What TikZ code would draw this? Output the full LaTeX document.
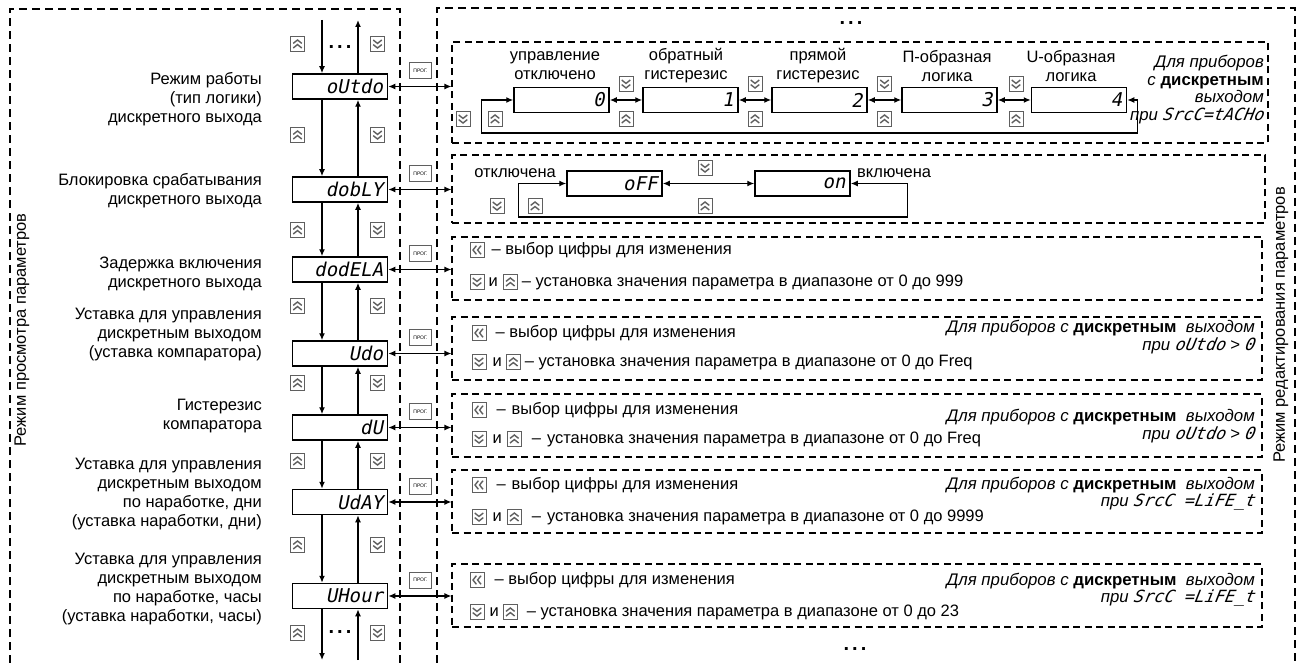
\documentclass[tikz,border=0pt]{standalone}
\usepackage{fontspec}
\setmainfont{Liberation Sans}
\newfontfamily\segfont[FakeSlant=0.2]{DejaVu Sans Mono}
\usetikzlibrary{arrows.meta,positioning}
\definecolor{pnl@gray}{RGB}{95,95,95}

% two chevrons drawn round the centre of a button
\newcommand{\chevpair}[1]{%
  \begin{scope}[shift={(path picture bounding box.center)}]
    \draw[line width=1.4pt, line join=miter] #1;
  \end{scope}}

\begin{document}
\begin{tikzpicture}[x=1pt, y=-1pt,
  disp/.style      = {rectangle, draw, line width=1.5pt, minimum width=95pt, minimum height=25pt,
                      inner sep=0pt, text width=86pt, align=right,
                      font=\segfont\fontsize{19}{19}\selectfont},
  ebox/.style      = {rectangle, draw, dash pattern=on 7pt off 4.5pt, line width=1.1pt},
  modeframe/.style = {draw, dash pattern=on 8pt off 5pt, line width=1.2pt},
  btn/.style       = {rectangle, draw=pnl@gray, line width=0.7pt, fill=white,
                      minimum width=14pt, minimum height=15pt, inner sep=0pt},
  btnup/.style     = {btn, path picture={\chevpair{(-4.3pt,-4pt) -- (0pt,-0.6pt) -- (4.3pt,-4pt)
                                                   (-4.3pt,0.6pt) -- (0pt,4pt) -- (4.3pt,0.6pt)}}},
  btndn/.style     = {btn, path picture={\chevpair{(-4.3pt,4pt) -- (0pt,0.6pt) -- (4.3pt,4pt)
                                                   (-4.3pt,-0.6pt) -- (0pt,-4pt) -- (4.3pt,-0.6pt)}}},
  btnlf/.style     = {btn, path picture={\chevpair{(4pt,-4.3pt) -- (0.6pt,0pt) -- (4pt,4.3pt)
                                                   (-0.6pt,-4.3pt) -- (-4pt,0pt) -- (-0.6pt,4.3pt)}}},
  prog/.style      = {rectangle, draw=pnl@gray, line width=0.7pt, minimum width=22pt,
                      minimum height=16pt, inner sep=0pt, font=\fontsize{5}{5}\selectfont},
  arr/.style       = {-{Latex[length=7pt,width=6pt]}, line width=1.3pt},
  dbl/.style       = {{Latex[length=7pt,width=6pt]}-{Latex[length=7pt,width=6pt]}, line width=1.3pt},
  lbl/.style       = {font=\fontsize{16.5}{19}\selectfont, align=right, inner sep=0pt},
  txt/.style       = {font=\fontsize{16.5}{19}\selectfont, inner sep=1pt, text height=12pt, text depth=3pt},
  note/.style      = {font=\fontsize{16.8}{17.5}\selectfont\itshape, align=right, inner sep=0pt},
  dots/.style      = {font=\fontsize{20}{20}\selectfont\bfseries, inner sep=0pt},
]
  \useasboundingbox (0,0) rectangle (1303,663);

  % mode frames
  \draw[modeframe] (10,663) |- (400,9) -- (400,663);
  \draw[modeframe] (437,663) |- (1295,8) -- (1295,663);
  \node[lbl, rotate=90] (lview) at (22,330)   {Режим просмотра параметров};
  \node[lbl, rotate=90] (ledit) at (1281,325) {Режим редактирования параметров};

  % parameter list
  \node[disp] (pOutdo)  at (340,86.5)  {oUtdo};
  \node[disp] (pDobly)  at (340,189.5) {dobLY};
  \node[disp] (pDodela) at (340,269.5) {dodELA};
  \node[disp] (pUdo)    at (340,353.5) {Udo};
  \node[disp] (pDu)     at (340,427.5) {dU};
  \node[disp] (pUday)   at (340,502)   {UdAY};
  \node[disp] (pUhour)  at (340,596)   {UHour};

  \node[lbl, anchor=east] (tOutdo)  at (262,99)  {Режим работы\\(тип логики)\hspace*{5pt}\\дискретного выхода};
  \node[lbl, anchor=east] (tDobly)  at (262,191) {Блокировка срабатывания\\дискретного выхода};
  \node[lbl, anchor=east] (tDodela) at (262,274) {Задержка включения\\дискретного выхода};
  \node[lbl, anchor=east] (tUdo)    at (262,335) {Уставка для управления\\дискретным выходом\\(уставка компаратора)};
  \node[lbl, anchor=east] (tDu)     at (262,416) {Гистерезис\\компаратора};
  \node[lbl, anchor=east] (tUday)   at (262,494) {Уставка для управления\\дискретным выходом\\по наработке, дни\\(уставка наработки, дни)};
  \node[lbl, anchor=east] (tUhour)  at (262,589) {Уставка для управления\\дискретным выходом\\по наработке, часы\\(уставка наработки, часы)};

  \coordinate (inTop)  at (322,20);
  \coordinate (outTop) at (358,20);
  \coordinate (inBot)  at (322,660);
  \coordinate (outBot) at (358,660);
  \draw[arr] (inTop) -- ([xshift=-18pt]pOutdo.north);
  \draw[arr] ([xshift=18pt]pOutdo.north) -- (outTop);
  \draw[arr] ([xshift=-18pt]pOutdo.south)  -- ([xshift=-18pt]pDobly.north);
  \draw[arr] ([xshift=18pt]pDobly.north)   -- ([xshift=18pt]pOutdo.south);
  \draw[arr] ([xshift=-18pt]pDobly.south)  -- ([xshift=-18pt]pDodela.north);
  \draw[arr] ([xshift=18pt]pDodela.north)  -- ([xshift=18pt]pDobly.south);
  \draw[arr] ([xshift=-18pt]pDodela.south) -- ([xshift=-18pt]pUdo.north);
  \draw[arr] ([xshift=18pt]pUdo.north)     -- ([xshift=18pt]pDodela.south);
  \draw[arr] ([xshift=-18pt]pUdo.south)    -- ([xshift=-18pt]pDu.north);
  \draw[arr] ([xshift=18pt]pDu.north)      -- ([xshift=18pt]pUdo.south);
  \draw[arr] ([xshift=-18pt]pDu.south)     -- ([xshift=-18pt]pUday.north);
  \draw[arr] ([xshift=18pt]pUday.north)    -- ([xshift=18pt]pDu.south);
  \draw[arr] ([xshift=-18pt]pUday.south)   -- ([xshift=-18pt]pUhour.north);
  \draw[arr] ([xshift=18pt]pUhour.north)   -- ([xshift=18pt]pUday.south);
  \draw[arr] ([xshift=-18pt]pUhour.south)  -- (inBot);
  \draw[arr] (outBot) -- ([xshift=18pt]pUhour.south);

  \node[btnup] (u0) at (297.5,44)  {};  \node[btndn] (d0) at (377.5,44)  {};
  \node[btnup] (u1) at (297.5,135) {};  \node[btndn] (d1) at (377.5,135) {};
  \node[btnup] (u2) at (297.5,230) {};  \node[btndn] (d2) at (377.5,230) {};
  \node[btnup] (u3) at (297.5,306) {};  \node[btndn] (d3) at (377.5,306) {};
  \node[btnup] (u4) at (297.5,383) {};  \node[btndn] (d4) at (377.5,383) {};
  \node[btnup] (u5) at (297.5,461) {};  \node[btndn] (d5) at (377.5,461) {};
  \node[btnup] (u6) at (297.5,545) {};  \node[btndn] (d6) at (377.5,545) {};
  \node[btnup] (u7) at (297.5,633) {};  \node[btndn] (d7) at (377.5,633) {};
  \node[dots] (mTop) at (340,47)  {.\hspace{3pt}.\hspace{3pt}.};
  \node[dots] (mBot) at (340,632) {.\hspace{3pt}.\hspace{3pt}.};

  % edit boxes
  \node[dots] (eTop) at (851,23)  {.\hspace{3pt}.\hspace{3pt}.};
  \node[dots] (eBot) at (855,649) {.\hspace{3pt}.\hspace{3pt}.};
  \node[ebox, minimum width=816pt, minimum height=101pt] (eOutdo)  at (860,92.5)  {};
  \node[ebox, minimum width=813pt, minimum height=68pt]  (eDobly)  at (858.5,189) {};
  \node[ebox, minimum width=810pt, minimum height=63pt]  (eDodela) at (857,268.5) {};
  \node[ebox, minimum width=810pt, minimum height=63pt]  (eUdo)    at (857,348.5) {};
  \node[ebox, minimum width=810pt, minimum height=63pt]  (eDu)     at (857,425.5) {};
  \node[ebox, minimum width=810pt, minimum height=63pt]  (eUday)   at (857,501.5) {};
  \node[ebox, minimum width=810pt, minimum height=63pt]  (eUhour)  at (857,595.5) {};

  \node[prog] (kOutdo)  at (420.5,70.5)  {ПРОГ.};
  \node[prog] (kDobly)  at (420.5,173.5) {ПРОГ.};
  \node[prog] (kDodela) at (420.5,253.5) {ПРОГ.};
  \node[prog] (kUdo)    at (420.5,337.5) {ПРОГ.};
  \node[prog] (kDu)     at (420.5,411.5) {ПРОГ.};
  \node[prog] (kUday)   at (420.5,486)   {ПРОГ.};
  \node[prog] (kUhour)  at (420.5,580)   {ПРОГ.};
  \draw[dbl] (pOutdo.east)  -- (pOutdo.east -| eOutdo.west);
  \draw[dbl] (pDobly.east)  -- (pDobly.east -| eDobly.west);
  \draw[dbl] (pDodela.east) -- (pDodela.east -| eDodela.west);
  \draw[dbl] (pUdo.east)    -- (pUdo.east -| eUdo.west);
  \draw[dbl] (pDu.east)     -- (pDu.east -| eDu.west);
  \draw[dbl] (pUday.east)   -- (pUday.east -| eUday.west);
  \draw[dbl] (pUhour.east)  -- (pUhour.east -| eUhour.west);

  % logic type
  \node[disp] (lg0) at (561.5,100) {0};
  \node[disp] (lg1) at (690.5,100) {1};
  \node[disp] (lg2) at (819.5,100) {2};
  \node[disp] (lg3) at (949.5,100) {3};
  \node[disp] (lg4) at (1079,100)  {4};
  \node[lbl, align=center] (tLg0) at (555,66) {управление\\отключено};
  \node[lbl, align=center] (tLg1) at (686,66) {обратный\\гистерезис};
  \node[lbl, align=center] (tLg2) at (818,66) {прямой\\гистерезис};
  \node[lbl, align=center] (tLg3) at (947,66) {П-образная\\логика};
  \node[lbl, align=center] (tLg4) at (1071,66) {U-образная\\логика};
  \draw[dbl] (lg0.east) -- (lg1.west);
  \draw[dbl] (lg1.east) -- (lg2.west);
  \draw[dbl] (lg2.east) -- (lg3.west);
  \draw[dbl] (lg3.east) -- (lg4.west);
  \draw[dbl] (lg4.east) -- ++(10,0) -- ++(0,33) -| ([xshift=-32pt]lg0.west) -- (lg0.west);
  \node[btndn] at (626,84)    {};  \node[btnup] at (626,119)    {};
  \node[btndn] at (755,84)    {};  \node[btnup] at (755,119)    {};
  \node[btndn] at (884.5,84)  {};  \node[btnup] at (884.5,119)  {};
  \node[btndn] at (1016,84)   {};  \node[btnup] at (1016,119)   {};
  \node[btndn] at (463,119)   {};  \node[btnup] at (495,119)    {};
  \node[note, anchor=east] (nOutdo) at (1264,89.5)
    {Для приборов\\с {\upshape\bfseries дискретным}\\выходом\\при {\segfont SrcC=tACHo}};

  % blocking
  \node[disp] (sOff) at (614.5,183.5) {oFF};
  \node[disp] (sOn)  at (802.5,183.5) {on};
  \draw[dbl] (sOff.east) -- (sOn.west);
  \draw[dbl] (sOn.east) -- ++(57,0) -- ++(0,33.5) -| ([xshift=-48pt]sOff.west) -- (sOff.west);
  \node[btndn] at (705,168) {};  \node[btnup] at (705,206) {};
  \node[btndn] at (497,206) {};  \node[btnup] at (535,206) {};
  \node[txt, anchor=base east] (tOff) at (557,178) {отключена};
  \node[txt, anchor=base west] (tOn)  at (856,178) {включена};

  % delay
  \node[btnlf] (cDodela) at (477,250) {};
  \node[txt, right=6pt of cDodela] (sDodela) {– выбор цифры для изменения};
  \node[btndn] (dDodela) at (477,282) {};
  \node[txt, right=3pt of dDodela] (iDodela) {и};
  \node[btnup, right=4pt of iDodela] (uDodela) {};
  \node[txt, right=3pt of uDodela] (rDodela) {– установка значения параметра в диапазоне от 0 до 999};

  % comparator setpoint
  \node[btnlf] (cUdo) at (479,333) {};
  \node[txt, right=8pt of cUdo] (sUdo) {– выбор цифры для изменения};
  \node[btndn] (dUdo) at (479,362) {};
  \node[txt, right=5pt of dUdo] (iUdo) {и};
  \node[btnup, right=3pt of iUdo] (uUdo) {};
  \node[txt, right=3pt of uUdo] (rUdo) {– установка значения параметра в диапазоне от 0 до Freq};
  \node[note, anchor=east] (nUdo) at (1255,337)
    {Для приборов с {\upshape\bfseries дискретным}~~выходом\\при {\segfont oUtdo} > {\segfont 0}};

  % hysteresis
  \node[btnlf] (cDu) at (479,410) {};
  \node[txt, right=9pt of cDu] (sDu) {–\hspace{6pt}выбор цифры для изменения};
  \node[btndn] (dDu) at (479,439) {};
  \node[txt, right=5pt of dDu] (iDu) {и};
  \node[btnup, right=4pt of iDu] (uDu) {};
  \node[txt, right=9pt of uDu] (rDu) {–\hspace{6pt}установка значения параметра в диапазоне от 0 до Freq};
  \node[note, anchor=east] (nDu) at (1255,426)
    {Для приборов с {\upshape\bfseries дискретным}~~выходом\\при {\segfont oUtdo} > {\segfont 0}};

  % running time, days
  \node[btnlf] (cUday) at (479,485) {};
  \node[txt, right=9pt of cUday] (sUday) {–\hspace{6pt}выбор цифры для изменения};
  \node[btndn] (dUday) at (479,517) {};
  \node[txt, right=5pt of dUday] (iUday) {и};
  \node[btnup, right=4pt of iUday] (uUday) {};
  \node[txt, right=9pt of uUday] (rUday) {–\hspace{6pt}установка значения параметра в диапазоне от 0 до 9999};
  \node[note, anchor=east] (nUday) at (1255,494)
    {Для приборов с {\upshape\bfseries дискретным}~~выходом\\при {\segfont SrcC =LiFE\_t}};

  % running time, hours
  \node[btnlf] (cUhour) at (477,580) {};
  \node[txt, right=9pt of cUhour] (sUhour) {– выбор цифры для изменения};
  \node[btndn] (dUhour) at (477,612) {};
  \node[txt, right=4pt of dUhour] (iUhour) {и};
  \node[btnup, right=3pt of iUhour] (uUhour) {};
  \node[txt, right=8pt of uUhour] (rUhour) {– установка значения параметра в диапазоне от 0 до 23};
  \node[note, anchor=east] (nUhour) at (1255,590)
    {Для приборов с {\upshape\bfseries дискретным}~~выходом\\при {\segfont SrcC =LiFE\_t}};
\end{tikzpicture}
\end{document}
